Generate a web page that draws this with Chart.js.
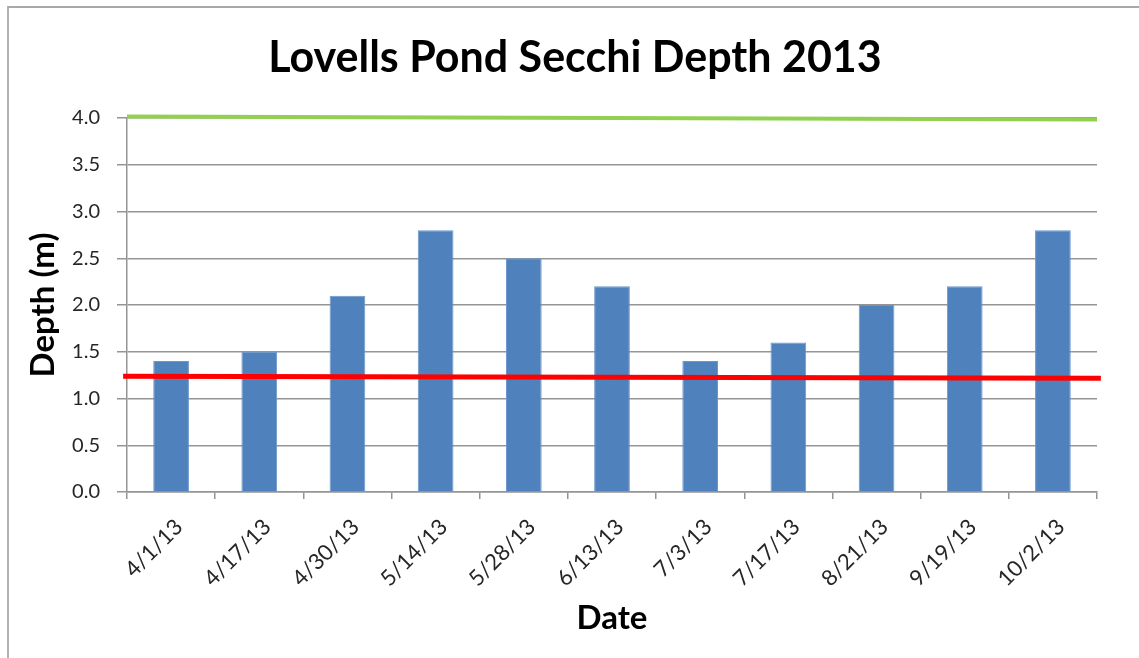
<!DOCTYPE html>
<html lang="en">
<head>
    <meta charset="UTF-8">
    <title>Lovells Pond Secchi Depth 2013</title>
    <script src="https://cdn.jsdelivr.net/npm/chart.js@4/dist/chart.umd.min.js"></script>
    <style>
        body {
            margin: 0;
            background: #ffffff;
        }

        .frame {
            position: absolute;
            left: 7px;
            top: 6px;
            width: 1132px;
            height: 652px;
            border-left: 2px solid #b4b4b4;
            border-top: 2px solid #a8a8a8;
        }

        .chart-container {
            position: relative;
            width: 1139px;
            height: 658px;
        }
    </style>
</head>
<body>
    <div class="frame"></div>
    <div class="chart-container">
        <canvas id="secchiChart"></canvas>
    </div>

    <script>
        // Sample dates and Secchi depths (m)
        const dates = ['4/1/13', '4/17/13', '4/30/13', '5/14/13', '5/28/13', '6/13/13',
                       '7/3/13', '7/17/13', '8/21/13', '9/19/13', '10/2/13'];
        const depths = [1.4, 1.5, 2.1, 2.8, 2.5, 2.2, 1.4, 1.6, 2.0, 2.2, 2.8];

        // Reference lines, drawn across the plot (x runs 0..1 on a hidden axis)
        const greenLineX = [0, 1];
        const greenLineY = [4.015, 3.985];
        const redLineX = [-0.004, 1.004];
        const redLineY = [1.237, 1.216];

        const yTicks = [0, 0.5, 1, 1.5, 2, 2.5, 3, 3.5, 4];

        const colors = {
            bar: '#4f81bd',
            green: '#92d050',
            red: '#ff0000',
            grid: '#959595',
            text: '#262626'
        };

        const toPoints = (xs, ys) => xs.map((x, i) => ({ x: x, y: ys[i] }));

        // Chart title drawn centered over the plot like the original
        const chartTitle = {
            id: 'chartTitle',
            afterDraw(chart) {
                const ctx = chart.ctx;
                ctx.save();
                ctx.font = 'bold 43px Lato, sans-serif';
                ctx.fillStyle = '#000';
                ctx.textAlign = 'center';
                ctx.textBaseline = 'middle';
                ctx.fillText('Lovells Pond Secchi Depth 2013', 575, 58);
                ctx.restore();
            }
        };

        const ctx = document.getElementById('secchiChart').getContext('2d');
        new Chart(ctx, {
            type: 'bar',
            data: {
                labels: dates,
                datasets: [{
                    label: 'Depth',
                    data: depths,
                    backgroundColor: colors.bar,
                    borderColor: '#6a96cc',
                    borderWidth: 1,
                    grouped: false,
                    barPercentage: 0.81,
                    categoryPercentage: 0.5,
                    order: 2
                }, {
                    type: 'line',
                    label: 'Upper',
                    data: toPoints(greenLineX, greenLineY),
                    xAxisID: 'xLine',
                    borderColor: colors.green,
                    borderWidth: 4,
                    pointRadius: 0,
                    clip: false,
                    order: 1
                }, {
                    type: 'line',
                    label: 'Lower',
                    data: toPoints(redLineX, redLineY),
                    xAxisID: 'xLine',
                    borderColor: colors.red,
                    borderWidth: 5,
                    pointRadius: 0,
                    clip: false,
                    order: 0
                }]
            },
            options: {
                responsive: true,
                maintainAspectRatio: false,
                animation: false,
                layout: {
                    padding: { top: 118, left: 10, right: 42, bottom: 20 }
                },
                plugins: {
                    legend: { display: false },
                    title: { display: false },
                    tooltip: { enabled: false }
                },
                scales: {
                    x: {
                        grid: {
                            offset: true,
                            drawOnChartArea: false,
                            drawTicks: true,
                            tickLength: 7,
                            color: colors.grid,
                            lineWidth: 1.5
                        },
                        border: { color: colors.grid, width: 1.5 },
                        ticks: {
                            minRotation: 45,
                            maxRotation: 45,
                            padding: 15,
                            labelOffset: 8,
                            color: colors.text,
                            font: { family: 'Lato, sans-serif', size: 22 }
                        },
                        title: {
                            display: true,
                            text: 'Date',
                            color: '#000',
                            font: { family: 'Lato, sans-serif', size: 33, weight: 'bold' },
                            padding: { top: 0, bottom: 0 }
                        },
                        afterFit: s => { s.height = 146; }
                    },
                    xLine: {
                        type: 'linear',
                        display: false,
                        offset: false,
                        min: 0,
                        max: 1
                    },
                    y: {
                        min: 0,
                        max: 4,
                        afterBuildTicks: s => { s.ticks = yTicks.map(v => ({ value: v })); },
                        grid: {
                            color: colors.grid,
                            lineWidth: 1.5,
                            tickLength: 10
                        },
                        border: { color: colors.grid, width: 1.5 },
                        ticks: {
                            padding: 17,
                            color: colors.text,
                            font: { family: 'Lato, sans-serif', size: 20 },
                            callback: v => Number(v).toFixed(1)
                        },
                        title: {
                            display: true,
                            text: 'Depth (m)',
                            color: '#000',
                            font: { family: 'Lato, sans-serif', size: 33, weight: 'bold' },
                            padding: { top: 14, bottom: 0 }
                        },
                        afterFit: s => { s.width = 117; }
                    }
                }
            },
            plugins: [chartTitle]
        });
    </script>
</body>
</html>
